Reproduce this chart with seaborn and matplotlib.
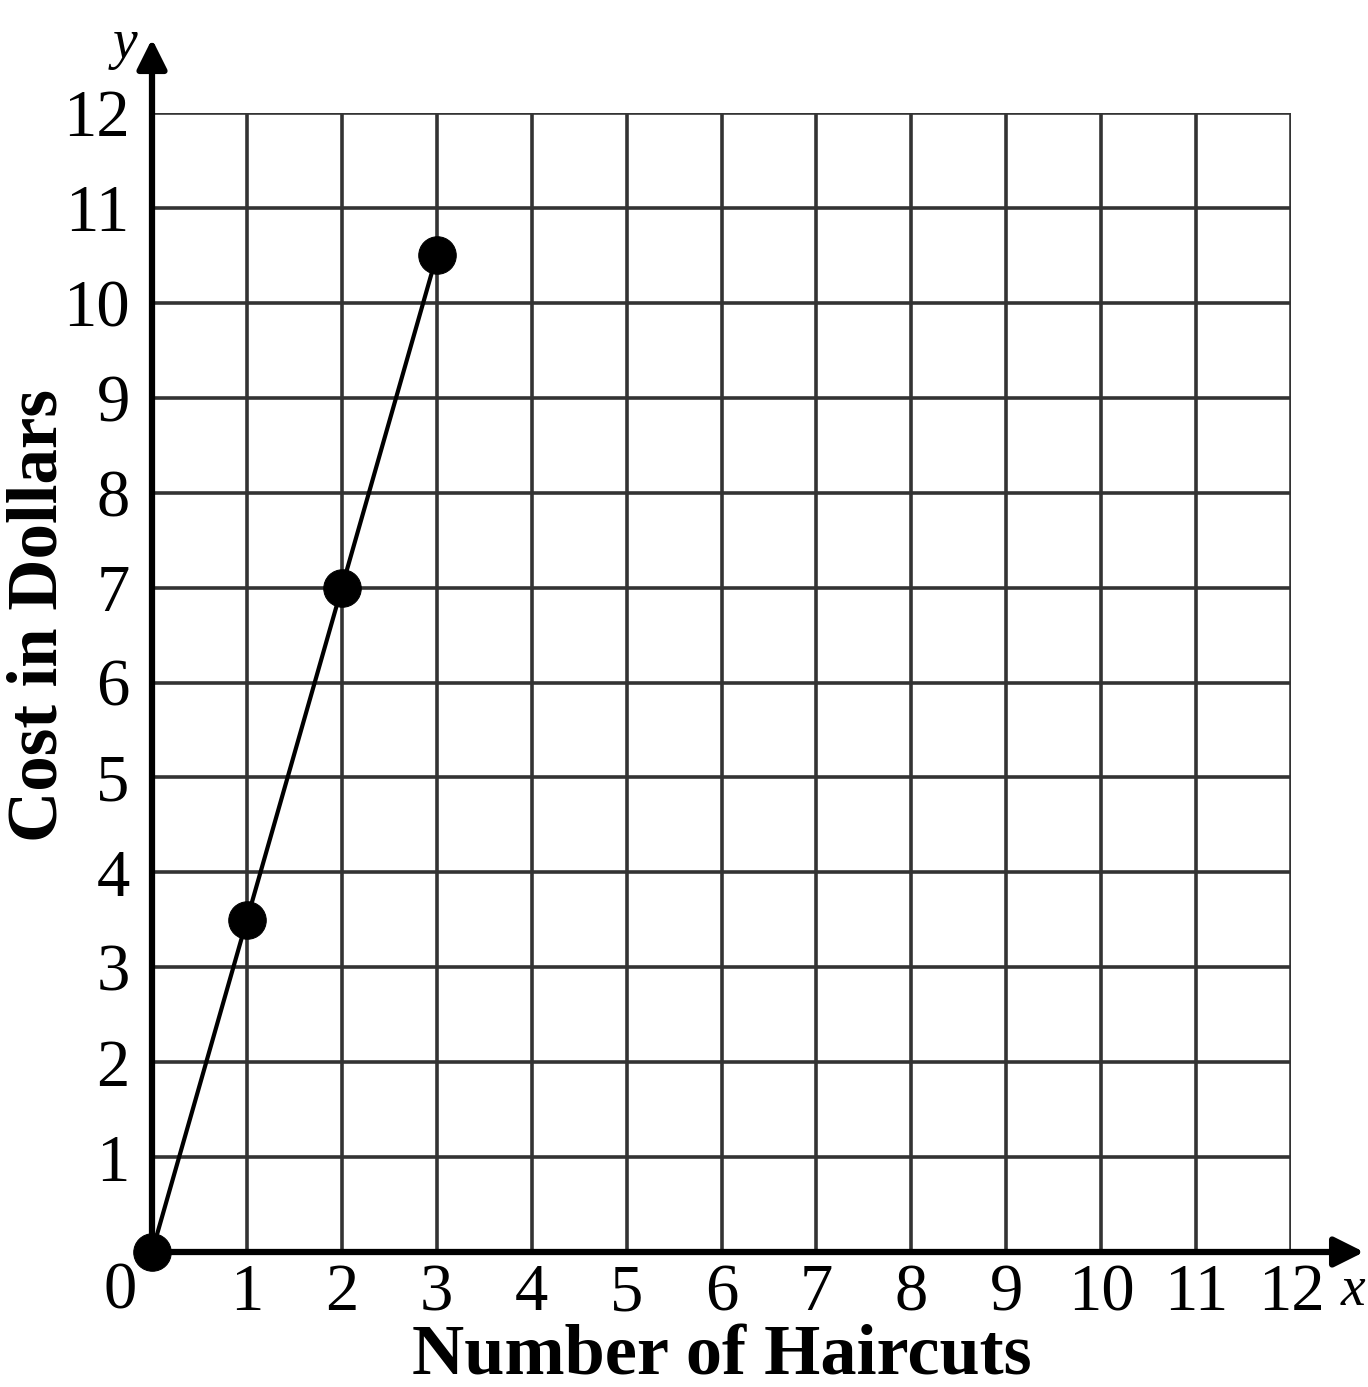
import matplotlib
matplotlib.use("Agg")
import matplotlib.pyplot as plt
import seaborn as sns
import pandas as pd

haircuts = [0, 1, 2, 3]
cost = [0, 3.5, 7, 10.5]
x_ticks = list(range(1, 13))
y_ticks = list(range(1, 13))

sns.set_style("white")
plt.rcParams["font.family"] = ["Liberation Serif", "DejaVu Serif"]
plt.rcParams["text.color"] = "black"
plt.rcParams["axes.labelcolor"] = "black"
plt.rcParams["xtick.color"] = "black"
plt.rcParams["ytick.color"] = "black"

fig = plt.figure(figsize=(13.68, 13.87), dpi=100)
ax = fig.add_axes([152 / 1368, 135 / 1387, 1139 / 1368, 1139 / 1387])

df = pd.DataFrame({"haircuts": haircuts, "cost": cost})
sns.lineplot(data=df, x="haircuts", y="cost", ax=ax, color="black", lw=3,
             marker="o", markersize=27, markeredgecolor="black",
             markerfacecolor="black", clip_on=False, zorder=5)

ax.set_xlim(0, 12)
ax.set_ylim(0, 12)
ax.set_xticks(x_ticks)
ax.set_yticks(y_ticks)
ax.set_xticklabels([str(v) for v in x_ticks])
ax.set_yticklabels([str(v) for v in y_ticks])
ax.tick_params(axis="both", length=0, labelsize=48, labelcolor="black")
ax.tick_params(axis="x", pad=8)
ax.tick_params(axis="y", pad=16)

ax.grid(True, color="#333333", lw=2.6)
ax.set_axisbelow(True)
for s in ["top", "right", "left", "bottom"]:
    ax.spines[s].set_visible(False)

# axes with arrows
arrow = dict(arrowstyle="-|>", lw=4.5, color="black", mutation_scale=45,
             shrinkA=0, shrinkB=0)
ax.annotate("", xy=(12.77, 0), xytext=(0, 0), arrowprops=arrow,
            annotation_clip=False, zorder=4)
ax.annotate("", xy=(0, 12.78), xytext=(0, 0), arrowprops=arrow,
            annotation_clip=False, zorder=4)

ax.text(-0.34, -0.1, "0", fontsize=48, ha="center", va="top")
ax.text(-0.28, 13.0, "y", fontsize=40, style="italic", ha="center", va="top")
ax.text(12.52, -0.14, "x", fontsize=40, style="italic", ha="left", va="top")

ax.set_xlabel("Number of Haircuts", fontsize=52, fontweight="bold", labelpad=0)
ax.set_ylabel("Cost in Dollars", fontsize=51, fontweight="bold")
ax.yaxis.label.set_va("center")
ax.yaxis.set_label_coords(-0.099, 0.559)

fig.savefig("out.png", dpi=100, facecolor="white")
